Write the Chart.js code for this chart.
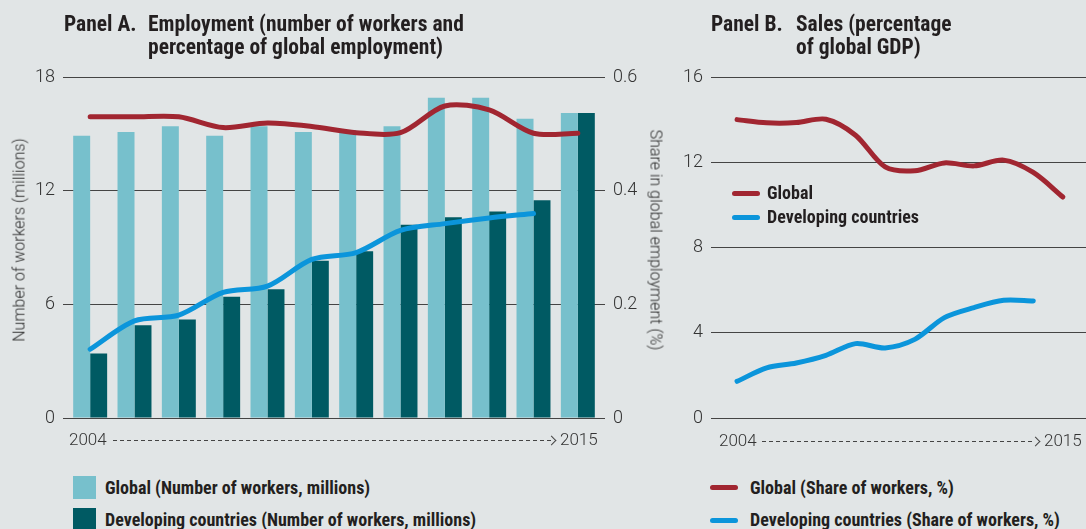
<!DOCTYPE html>
<html>
<head>
<meta charset="utf-8">
<script src="https://cdn.jsdelivr.net/npm/chart.js@4.4.1/dist/chart.umd.min.js"></script>
<style>
  html, body { margin: 0; padding: 0; }
  body {
    width: 1086px; height: 529px; overflow: hidden; position: relative;
    background: #e1e5e6; color: #231f20;
    font-family: "Liberation Sans Narrow", "Roboto Condensed", "DejaVu Sans Condensed", sans-serif;
  }
  canvas { position: absolute; top: 0; }
  #chartA { left: 0; }
  #chartB { left: 680px; }
  .abs { position: absolute; white-space: nowrap; }
  .title { font-weight: bold; font-size: 21.5px; line-height: 23px; }
  .axis-title { font-family: Roboto, "Liberation Sans", sans-serif; font-weight: 300; font-size: 16px; color: #2b2b2b; }
  .year { font-family: Roboto, "Liberation Sans", sans-serif; font-weight: 300; font-size: 17px; color: #333; line-height: 20px; }
  .dash { height: 1px; background: repeating-linear-gradient(to right, #444 0 4px, transparent 4px 7px); }
  .chev { width: 6px; height: 6px; border-top: 1px solid #444; border-right: 1px solid #444; transform: rotate(45deg); }
  .leg { font-weight: bold; font-size: 18px; line-height: 20px; }
  .sw { width: 23px; height: 23px; }
  .ln { width: 28px; height: 5px; border-radius: 3px; }
</style>
</head>
<body>
<canvas id="chartA" width="680" height="460"></canvas>
<canvas id="chartB" width="406" height="460"></canvas>

<!-- titles -->
<div class="abs title" style="left:64px; top:12px;">Panel A.</div>
<div class="abs title" style="left:148px; top:12px;">Employment (number of workers and<br>percentage of global employment)</div>
<div class="abs title" style="left:711px; top:12px;">Panel B.</div>
<div class="abs title" style="left:796px; top:12px;">Sales (percentage<br>of global GDP)</div>

<!-- axis titles -->
<div class="abs axis-title" style="left:19px; top:240px; transform: translate(-50%, -50%) rotate(-90deg);">Number of workers (millions)</div>
<div class="abs axis-title" style="left:656px; top:240px; transform: translate(-50%, -50%) rotate(90deg);">Share in global employment (%)</div>

<!-- time axis, panel A -->
<div class="abs year" style="left:69px; top:429px;">2004</div>
<div class="abs dash" style="left:113px; top:440px; width:438px;"></div>
<div class="abs chev" style="left:548px; top:437px;"></div>
<div class="abs year" style="left:560px; top:429px;">2015</div>

<!-- time axis, panel B -->
<div class="abs year" style="left:719px; top:430px;">2004</div>
<div class="abs dash" style="left:762px; top:441px; width:273px;"></div>
<div class="abs chev" style="left:1032px; top:438px;"></div>
<div class="abs year" style="left:1044px; top:430px;">2015</div>

<!-- legend inside panel B -->
<div class="abs ln" style="left:732px; top:191px; background:#a12631;"></div>
<div class="abs leg" style="left:767px; top:183px;">Global</div>
<div class="abs ln" style="left:732px; top:215px; background:#0b95db;"></div>
<div class="abs leg" style="left:767px; top:207px;">Developing countries</div>

<!-- bottom legend -->
<div class="abs sw" style="left:73px; top:476px; background:#77c0cc;"></div>
<div class="abs leg" style="left:105px; top:478px;">Global (Number of workers, millions)</div>
<div class="abs sw" style="left:73px; top:508px; background:#005a63;"></div>
<div class="abs leg" style="left:105px; top:510px;">Developing countries (Number of workers, millions)</div>
<div class="abs ln" style="left:710px; top:485px; background:#a12631;"></div>
<div class="abs leg" style="left:750px; top:478px;">Global (Share of workers, %)</div>
<div class="abs ln" style="left:710px; top:518px; background:#0b95db;"></div>
<div class="abs leg" style="left:750px; top:510px;">Developing countries (Share of workers, %)</div>

<script>
// ── DATA ──
const years = ['2004', '2005', '2006', '2007', '2008', '2009', '2010', '2011', '2012', '2013', '2014', '2015'];

// Panel A: workers (millions) as bars, share of global employment (%) as lines
const globalWorkers     = [14.9, 15.1, 15.4, 14.9, 15.4, 15.1, 15.2, 15.4, 16.9, 16.9, 15.8, 16.1];
const developingWorkers = [3.4, 4.9, 5.2, 6.4, 6.8, 8.3, 8.8, 10.2, 10.6, 10.9, 11.5, 16.1];
const globalShare       = [0.530, 0.530, 0.530, 0.511, 0.519, 0.513, 0.502, 0.502, 0.549, 0.542, 0.501, 0.501];
const developingShare   = [0.121, 0.171, 0.181, 0.221, 0.232, 0.279, 0.291, 0.330, 0.342, 0.352, 0.360, null];

// Panel B: sales as % of global GDP
const globalSales     = [14.0, 13.85, 13.86, 14.02, 13.27, 11.78, 11.6, 11.97, 11.83, 12.1, 11.52, 10.37];
const developingSales = [1.72, 2.35, 2.58, 2.94, 3.49, 3.29, 3.69, 4.71, 5.18, 5.52, 5.49, null];

const workerTicks = [0, 6, 12, 18];
const shareTicks  = [0, 0.2, 0.4, 0.6];
const salesTicks  = [0, 4, 8, 12, 16];

// ── STYLE ──
const LIGHT_TEAL = '#77c0cc';
const DARK_TEAL  = '#005a63';
const RED        = '#a12631';
const BLUE       = '#0b95db';
const GRID       = '#444';
const TICK_FONT  = { family: 'Roboto, "Liberation Sans", sans-serif', size: 18, weight: '300' };
const TICK_COLOR = '#333';

function lineSet(data, color, axis) {
    return {
        type: 'line',
        data,
        yAxisID: axis,
        borderColor: color,
        borderWidth: 5,
        borderCapStyle: 'round',
        borderJoinStyle: 'round',
        pointRadius: 0,
        tension: 0.3,
        fill: false,
        order: 0
    };
}

// ── PANEL A ──
new Chart(document.getElementById('chartA'), {
    type: 'bar',
    data: {
        labels: years,
        datasets: [
            lineSet(globalShare, RED, 'y1'),
            lineSet(developingShare, BLUE, 'y1'),
            { data: globalWorkers, backgroundColor: LIGHT_TEAL, yAxisID: 'y', order: 1,
              categoryPercentage: 0.766, barPercentage: 1 },
            { data: developingWorkers, backgroundColor: DARK_TEAL, yAxisID: 'y', order: 1,
              categoryPercentage: 0.766, barPercentage: 1 }
        ]
    },
    options: {
        responsive: false,
        animation: false,
        layout: { padding: { top: 77, bottom: 42, left: 0, right: 0 } },
        plugins: { legend: { display: false }, tooltip: { enabled: false } },
        scales: {
            x: { display: false, offset: true },
            y: {
                position: 'left', min: 0, max: 18,
                afterBuildTicks: s => { s.ticks = workerTicks.map(v => ({ value: v })); },
                afterFit: s => { s.width = 68; },
                ticks: { padding: 8, font: TICK_FONT, color: TICK_COLOR },
                grid: { color: GRID, tickLength: 5 },
                border: { display: false }
            },
            y1: {
                position: 'right', min: 0, max: 0.6,
                afterBuildTicks: s => { s.ticks = shareTicks.map(v => ({ value: v })); },
                afterFit: s => { s.width = 80; },
                ticks: {
                    padding: 8, font: TICK_FONT, color: TICK_COLOR,
                    callback: v => v === 0 ? '0' : v.toFixed(1)
                },
                grid: { drawOnChartArea: false, color: GRID, tickLength: 5 },
                border: { display: false }
            }
        }
    }
});

// ── PANEL B ──
const toPoints = vals => years.map((yr, i) => ({ x: +yr, y: vals[i] }));

new Chart(document.getElementById('chartB'), {
    type: 'line',
    data: {
        datasets: [
            lineSet(toPoints(globalSales), RED, 'y'),
            lineSet(toPoints(developingSales), BLUE, 'y')
        ]
    },
    options: {
        responsive: false,
        animation: false,
        layout: { padding: { top: 77, bottom: 42, left: 0, right: 0 } },
        plugins: { legend: { display: false }, tooltip: { enabled: false } },
        scales: {
            x: { type: 'linear', display: false, min: 2003.12, max: 2015.78 },
            y: {
                min: 0, max: 16,
                afterBuildTicks: s => { s.ticks = salesTicks.map(v => ({ value: v })); },
                afterFit: s => { s.width = 31; },
                ticks: { padding: 8, font: TICK_FONT, color: TICK_COLOR },
                grid: { color: GRID, drawTicks: false },
                border: { display: false }
            }
        }
    }
});
</script>
</body>
</html>
